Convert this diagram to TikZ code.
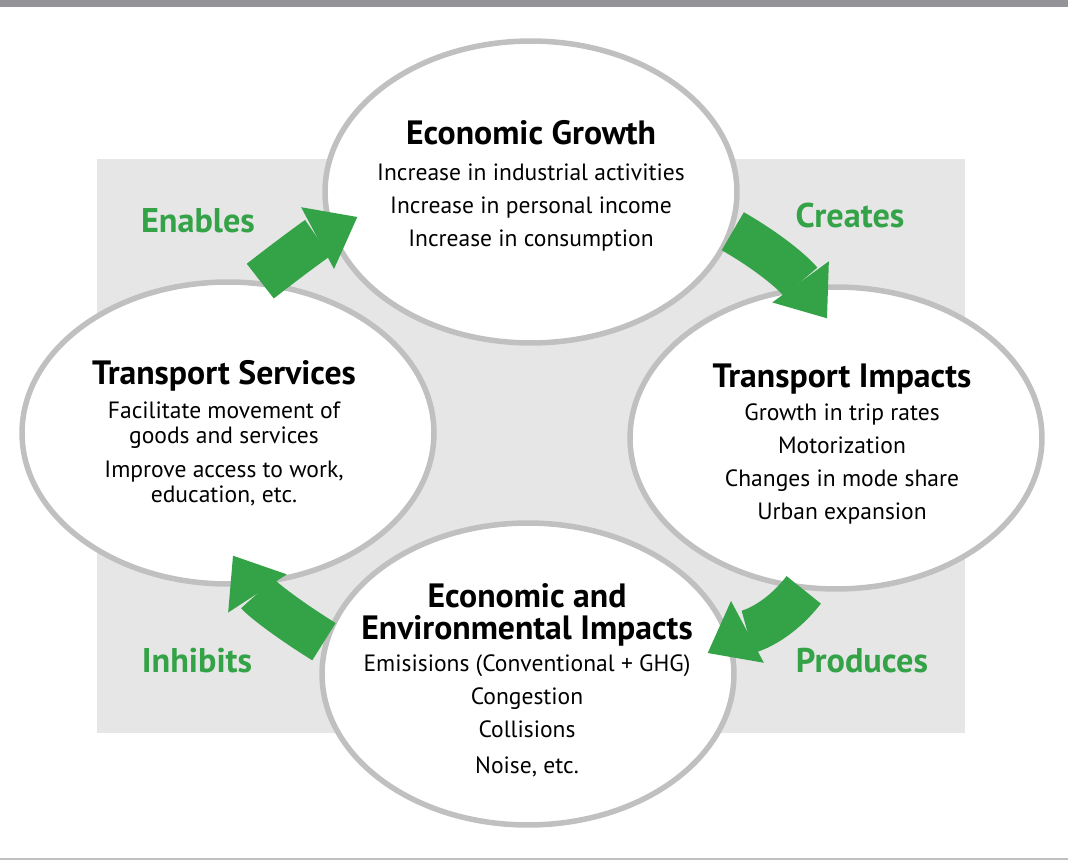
\documentclass[tikz,border=0pt]{standalone}
\usepackage{fontspec}
\setmainfont{PT Sans}
\usetikzlibrary{calc,arrows.meta,shapes.geometric}
\definecolor{cyclegreen}{RGB}{52,163,72}
\definecolor{rimgray}{RGB}{192,192,192}
\definecolor{panelgray}{RGB}{230,230,230}
\definecolor{bargray}{RGB}{148,148,152}
\newcommand{\bubtitle}[1]{{\fontsize{19.2}{21}\selectfont\bfseries #1}}
\tikzset{
    bubble/.style = {draw=rimgray, fill=white, ellipse, line width=0.11cm,
        minimum width=8.24cm,
        minimum height=6.04cm, inner sep=0pt},
    bubtext/.style = {align=center, font=\fontsize{13.4}{18.8}\selectfont},
    verb/.style = {text=cyclegreen, font=\fontsize{19.5}{21}\selectfont\bfseries},
    flow/.style = {draw=cyclegreen, line width=0.88cm,
        -{Triangle[length=0.9cm,width=1.4cm,line width=0pt]}}
}

\begin{document}
\begin{tikzpicture}[x=0.02cm, y=0.02cm]
    \useasboundingbox (0,0) rectangle (1068,860);
    \fill[bargray] (0,853) rectangle (1068,860);
    \fill[rimgray] (0,0) rectangle (1068,2);
    \fill[panelgray] (97,127) rectangle (965,701);

    \node[bubble] (eg) at (531,668) {};
    \node[bubble] (ts) at (228,427) {};
    \node[bubble] (ti) at (836,422) {};
    \node[bubble] (ee) at (528,186) {};

    \node[bubtext] (egtext) at ($(eg)+(0,6)$) {\bubtitle{Economic Growth}\\[1.4pt]
        Increase in industrial activities\\
        Increase in personal income\\
        Increase in consumption};
    \node[bubtext] (tstext) at ($(ts)+(-4,0)$) {\bubtitle{Transport Services}\\[0.4pt]
        Facilitate movement of\\[-4.6pt]
        goods and services\\[0.6pt]
        Improve access to work,\\[-4.6pt]
        education, etc.};
    \node[bubtext] (titext) at ($(ti)+(6,-6)$) {\bubtitle{Transport Impacts}\\[0.4pt]
        Growth in trip rates\\
        Motorization\\
        Changes in mode share\\
        Urban expansion};
    \node[bubtext] (eetext) at ($(ee)+(-1,-6)$) {\bubtitle{Economic and}\\[-0.5pt]
        \bubtitle{Environmental Impacts}\\[-0.6pt]
        Emisisions (Conventional + GHG)\\
        Congestion\\
        Collisions\\[1.7pt]
        Noise, etc.};

    \coordinate (enablestip) at ($(eg.west)+(35,-25)$);
    \coordinate (createstip) at ($(ti.north)+(-9,-34)$);
    \coordinate (producestip) at ($(ee.east)+(-29,21)$);
    \coordinate (inhibitstip) at ($(ts.south)+(5,31)$);
    \draw[flow] (ts.78) to[out=38,in=208] (enablestip);
    \draw[flow] (eg.-11) to[out=-30,in=126] (createstip);
    \draw[flow] (ti.258) to[out=-128,in=28] (producestip);
    \draw[flow] (ee.171) to[out=148,in=303] (inhibitstip);

    \node[verb] (enables) at (198,639) {Enables};
    \node[verb] (creates) at (850,644) {Creates};
    \node[verb] (inhibits) at (197,199) {Inhibits};
    \node[verb] (produces) at (862,199) {Produces};
\end{tikzpicture}
\end{document}
